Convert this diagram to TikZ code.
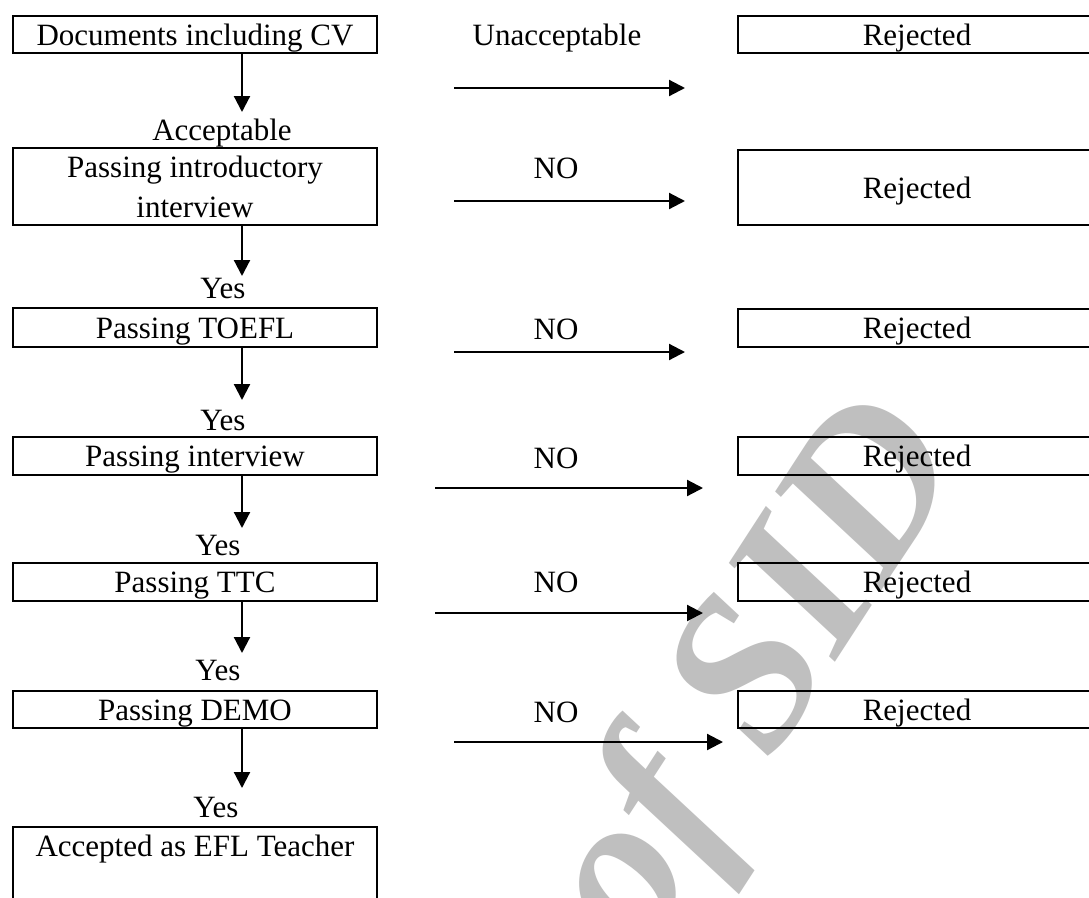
\documentclass[tikz,border=0pt]{standalone}
\usepackage{fontspec}
\setmainfont{Liberation Serif}
\usetikzlibrary{arrows.meta}
\begin{document}
\begin{tikzpicture}[x=1pt,y=-1pt,
  txt/.style={font=\fontsize{31}{40}\selectfont},
  box/.style={txt, draw, line width=2.4pt, minimum width=364pt, inner sep=0pt, align=center},
  rbox/.style={txt, draw, line width=2.4pt, minimum width=358pt, inner sep=0pt},
  one/.style={text height=21pt, text depth=0pt},
  lbl/.style={txt, inner sep=0pt, anchor=base},
  flow/.style={line width=2.2pt, -{Triangle[length=16pt,width=16pt]}},
  wmark/.style={text=black!25, font=\fontsize{218}{218}\selectfont\bfseries\itshape, inner sep=0pt}
]
\useasboundingbox (0,0) rectangle (1089,897);
\fill[white] (0,0) rectangle (1089,897);

% watermark
\node[wmark, rotate=57] (wm) at (760,680) {of SID};

% left column
\node[box, one, minimum height=37pt] (b1) at (195,34.5) {Documents including CV};
\node[box, minimum height=77pt] (b2) at (195,186.5) {Passing introductory\\interview};
\node[box, one, minimum height=39pt] (b3) at (195,327.5) {Passing TOEFL};
\node[box, one, minimum height=38pt] (b4) at (195,456) {Passing interview};
\node[box, one, minimum height=38pt] (b5) at (195,582) {Passing TTC};
\node[box, one, minimum height=37pt] (b6) at (195,709.5) {Passing DEMO};
\node[box, anchor=north, text height=29pt, text depth=70pt] (b7) at (195,826) {Accepted as EFL Teacher};

% right column
\node[rbox, one, minimum height=37pt] (r1) at (917,34.5) {Rejected};
\node[rbox, one, minimum height=75pt] (r2) at (917,187.5) {Rejected};
\node[rbox, one, minimum height=38pt] (r3) at (917,328) {Rejected};
\node[rbox, one, minimum height=38pt] (r4) at (917,456) {Rejected};
\node[rbox, one, minimum height=38pt] (r5) at (917,582) {Rejected};
\node[rbox, one, minimum height=37pt] (r6) at (917,709.5) {Rejected};

% down labels
\node[lbl] (acc) at (222,140) {Acceptable};
\node[lbl] (y1) at (223,298) {Yes};
\node[lbl] (y2) at (223,430) {Yes};
\node[lbl] (y3) at (218,555) {Yes};
\node[lbl] (y4) at (218,680) {Yes};
\node[lbl] (y5) at (216,817) {Yes};

% down arrow tips
\coordinate (d1) at (242,112);
\coordinate (d2) at (242,276);
\coordinate (d3) at (242,400);
\coordinate (d4) at (242,528);
\coordinate (d5) at (242,653);
\coordinate (d6) at (242,788);
\draw[flow] (b1.south -| d1) -- (d1);
\draw[flow] (b2.south -| d2) -- (d2);
\draw[flow] (b3.south -| d3) -- (d3);
\draw[flow] (b4.south -| d4) -- (d4);
\draw[flow] (b5.south -| d5) -- (d5);
\draw[flow] (b6.south -| d6) -- (d6);

% side labels
\node[lbl] (n1) at (557,45) {Unacceptable};
\node[lbl] (n2) at (556,178) {NO};
\node[lbl] (n3) at (556,339) {NO};
\node[lbl] (n4) at (556,468) {NO};
\node[lbl] (n5) at (556,592) {NO};
\node[lbl] (n6) at (556,722) {NO};

% side arrows
\coordinate (s1) at (454,88);  \coordinate (e1) at (685,88);
\coordinate (s2) at (454,201); \coordinate (e2) at (685,201);
\coordinate (s3) at (454,352); \coordinate (e3) at (685,352);
\coordinate (s4) at (435,488); \coordinate (e4) at (703,488);
\coordinate (s5) at (435,613); \coordinate (e5) at (703,613);
\coordinate (s6) at (454,742); \coordinate (e6) at (723,742);
\draw[flow] (s1) -- (e1);
\draw[flow] (s2) -- (e2);
\draw[flow] (s3) -- (e3);
\draw[flow] (s4) -- (e4);
\draw[flow] (s5) -- (e5);
\draw[flow] (s6) -- (e6);
\end{tikzpicture}
\end{document}
